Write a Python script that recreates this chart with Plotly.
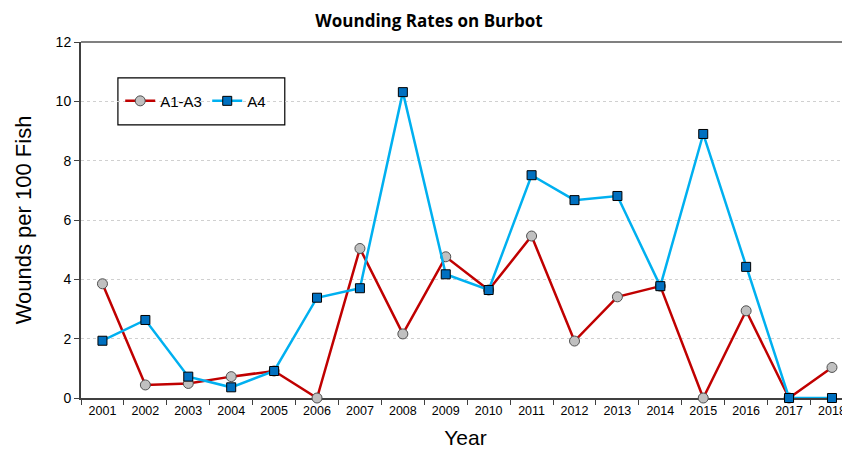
import plotly.graph_objects as go

# Datos
anios = [str(a) for a in range(2001, 2019)]
a1_a3 = [3.85, 0.44, 0.49, 0.72, 0.91, 0.0, 5.04, 2.16, 4.76, 3.64,
         5.46, 1.92, 3.41, 3.77, 0.0, 2.94, 0.0, 1.03]
a4 = [1.93, 2.63, 0.72, 0.36, 0.91, 3.38, 3.70, 10.31, 4.17, 3.64,
      7.51, 6.67, 6.81, 3.77, 8.90, 4.42, 0.0, 0.0]
y_ticks = [0, 2, 4, 6, 8, 10, 12]

fig = go.Figure()

fig.add_trace(go.Scatter(
    x=anios, y=a1_a3, name='A1-A3', mode='lines+markers',
    line=dict(color='#C00000', width=2.5),
    marker=dict(symbol='circle', size=10, color='#C0C0C0',
                line=dict(color='#505050', width=1)),
    cliponaxis=False
))

fig.add_trace(go.Scatter(
    x=anios, y=a4, name='A4', mode='lines+markers',
    line=dict(color='#00B0F0', width=2.5),
    marker=dict(symbol='square', size=9, color='#0070C0',
                line=dict(color='black', width=1)),
    cliponaxis=False
))

# El navegador deja 8 px de margen en el body: se compensa en el tamaño
fig.update_layout(
    width=842, height=441,
    margin=dict(l=73, r=0, t=34, b=51),
    plot_bgcolor='white',
    paper_bgcolor='white',
    font=dict(family='Liberation Sans, Arial, sans-serif', color='black'),
    title=dict(
        text='<b>Wounding Rates on Burbot</b>',
        font=dict(family='Open Sans, sans-serif', size=17, color='black'),
        x=0.5, xanchor='center', y=0.985, yanchor='top'
    ),
    legend=dict(
        orientation='h',
        x=0.051, xanchor='left', y=0.834, yanchor='middle',
        borderwidth=0,
        bgcolor='rgba(0,0,0,0)',
        font=dict(size=15, color='black'),
        itemwidth=30,
        entrywidth=42
    ),
    showlegend=True,
)

# Caja de la leyenda
fig.add_shape(type='rect', xref='paper', yref='paper',
              x0=0.048, x1=0.265, y0=0.767, y1=0.899,
              line=dict(color='black', width=1.2), fillcolor='white', layer='below')

# Línea superior del área del gráfico
fig.add_shape(type='line', xref='paper', yref='paper', x0=0, x1=1, y0=1, y1=1,
              line=dict(color='#808080', width=2))

fig.update_xaxes(
    type='category',
    range=[-0.5, 17.42],
    tickson='boundaries',
    ticks='outside', ticklen=5, tickcolor='#404040',
    showline=True, linecolor='#404040', linewidth=2,
    showgrid=False,
    tickfont=dict(size=12.5, color='black'),
    title=dict(text='Year', font=dict(size=21, color='black'), standoff=13),
    automargin=False,
    layer='below traces'
)

fig.update_yaxes(
    range=[0, 12],
    tickvals=y_ticks,
    ticks='outside', ticklen=5, tickcolor='#404040',
    showline=True, linecolor='#404040', linewidth=2,
    showgrid=True, gridcolor='#D0D0D0', griddash='dot', gridwidth=1,
    zeroline=False,
    tickfont=dict(size=14, color='black'),
    title=dict(text='Wounds per 100 Fish', font=dict(size=22, color='black'), standoff=18),
    automargin=False,
    layer='below traces'
)

fig.write_html('out.html')
